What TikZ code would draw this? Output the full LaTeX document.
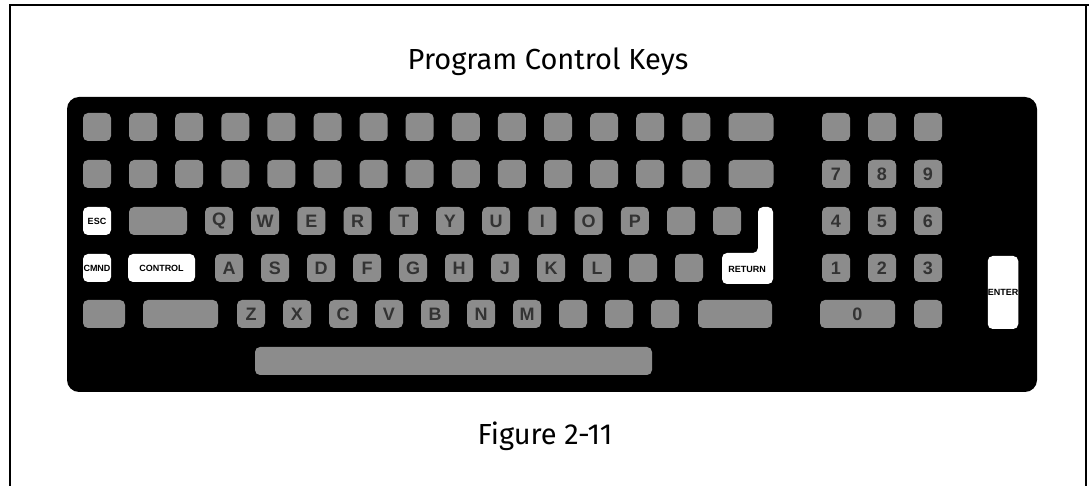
\documentclass[tikz,border=0pt]{standalone}
\usepackage{fontspec}
\setmainfont{Fira Sans}
\newfontfamily\keyfont{Liberation Sans}
\usetikzlibrary{positioning}

\tikzset{
  gkey/.style={rectangle, rounded corners=2.5pt, fill=black!45, minimum width=14pt, minimum height=14pt, inner sep=0pt, text=black!80, font=\keyfont\bfseries\fontsize{9}{9}\selectfont},
  wkey/.style={gkey, fill=white, text=black, font=\keyfont\bfseries\fontsize{4.5}{5}\selectfont},
  caption/.style={font=\fontsize{14.5}{16}\selectfont}
}

\begin{document}
\begin{tikzpicture}[x=0.5pt, y=-0.5pt]
			\useasboundingbox (0,0) rectangle (1089,486);
			
			\draw[line width=0.7pt] (10,486) -- (10,5) -- (1089,5);
			\draw[line width=0.7pt] (1086,5) -- (1086,486);
			
			\node[caption] (title) at (548,62) {Program Control Keys};
			\node[caption] (fig) at (545,436) {Figure 2-11};
			
			\fill[rounded corners=6pt] (67,97) rectangle (1037,392);
			
			\foreach \r/\y in {0/127, 1/174} {
				\foreach \i in {0,...,13}
				\node[gkey] (k\r-\i) at (97+46.1*\i, \y) {};
				\node[gkey, minimum width=22.5pt] (k\r-w) at (751, \y) {};
				\node[gkey] (p\r-a) at (836, \y) {};
				\node[gkey] (p\r-b) at (882, \y) {};
				\node[gkey] (p\r-c) at (928, \y) {};
			}
			
			\node[wkey] (esc) at (97,221) {ESC};
			\node[gkey, minimum width=29pt] (tab) at (158,221) {};
			\foreach \c [count=\i from 0] in {Q,W,E,R,T,Y,U,I,O,P}
			\node[gkey] (q\i) at (219+46.2*\i, 221) {\c};
			\node[gkey] (q10) at (681,221) {};
			\node[gkey] (q11) at (727,221) {};
			
			\node[wkey] (cmnd) at (97,268) {CMND};
			\node[wkey, minimum width=33.5pt] (ctrl) at (161.5,268) {CONTROL};
			\foreach \c [count=\i from 0] in {A,S,D,F,G,H,J,K,L}
			\node[gkey] (a\i) at (229+46*\i, 268) {\c};
			\node[gkey] (a9) at (643,268) {};
			\node[gkey] (a10) at (689,268) {};
			
			\fill[white, rounded corners=2.5pt] (758,207) -- (773,207) -- (773,284) -- (722,284) -- (722,253) -- (758,253) -- cycle;
			\node[font=\keyfont\bfseries\fontsize{4.5}{5}\selectfont] (ret) at (747,269) {RETURN};
			
			\node[gkey, minimum width=21pt] (lock) at (104,314) {};
			\node[gkey, minimum width=37.5pt] (lshift) at (180.5,314) {};
			\foreach \c [count=\i from 0] in {Z,X,C,V,B,N,M}
			\node[gkey] (z\i) at (251+46*\i, 314) {\c};
			\foreach \i in {7,8,9}
			\node[gkey] (z\i) at (251+46*\i, 314) {};
			\node[gkey, minimum width=37pt] (rshift) at (735,314) {};
			
			\node[gkey, minimum width=198.5pt] (space) at (453.5,361) {};
			
			\foreach \y/\a/\b/\c [count=\r from 2] in {174/7/8/9, 221/4/5/6, 268/1/2/3} {
				\node[gkey] (n\r-a) at (836,\y) {\a};
				\node[gkey] (n\r-b) at (882,\y) {\b};
				\node[gkey] (n\r-c) at (928,\y) {\c};
			}
			\node[gkey, minimum width=37.5pt] (zero) at (857.5,314) {0};
			\node[gkey] (dot) at (928,314) {};
			
			\node[wkey, minimum width=15pt, minimum height=36.5pt] (enter) at (1003,292.5) {ENTER};
			
			\end{tikzpicture}
\end{document}
